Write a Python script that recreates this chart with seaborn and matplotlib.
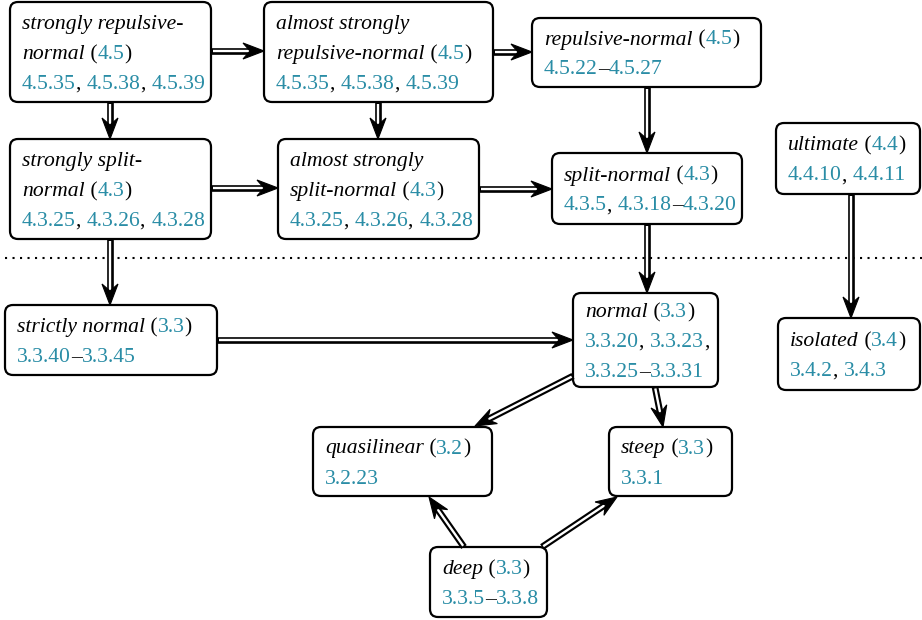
import re
import matplotlib
matplotlib.use("Agg")
import matplotlib.pyplot as plt
import seaborn as sns
from matplotlib.patches import FancyBboxPatch, Polygon

sns.set_theme(style="white")
plt.rcParams['font.family'] = ['Liberation Serif', 'DejaVu Serif']

# --- diagram content ---
nodes = ["srn", "asrn", "rn", "ssn", "assn", "sn", "ult",
         "stn", "nor", "iso", "ql", "stp", "deep"]
titles = [["strongly repulsive-", "normal"],
          ["almost strongly", "repulsive-normal"],
          ["repulsive-normal"],
          ["strongly split-", "normal"],
          ["almost strongly", "split-normal"],
          ["split-normal"],
          ["ultimate"],
          ["strictly normal"],
          ["normal"],
          ["isolated"],
          ["quasilinear"],
          ["steep"],
          ["deep"]]
sections = ["4.5", "4.5", "4.5", "4.3", "4.3", "4.3", "4.4",
            "3.3", "3.3", "3.4", "3.2", "3.3", "3.3"]
results = [["4.5.35, 4.5.38, 4.5.39"],
           ["4.5.35, 4.5.38, 4.5.39"],
           ["4.5.22\u20134.5.27"],
           ["4.3.25, 4.3.26, 4.3.28"],
           ["4.3.25, 4.3.26, 4.3.28"],
           ["4.3.5, 4.3.18\u20134.3.20"],
           ["4.4.10, 4.4.11"],
           ["3.3.40\u20133.3.45"],
           ["3.3.20, 3.3.23,", "3.3.25\u20133.3.31"],
           ["3.4.2, 3.4.3"],
           ["3.2.23"],
           ["3.3.1"],
           ["3.3.5\u20133.3.8"]]
edges = [("srn", "asrn"), ("asrn", "rn"), ("srn", "ssn"), ("asrn", "assn"),
         ("rn", "sn"), ("ssn", "assn"), ("assn", "sn"), ("ssn", "stn"),
         ("sn", "nor"), ("ult", "iso"), ("stn", "nor"), ("nor", "ql"),
         ("nor", "stp"), ("deep", "ql"), ("deep", "stp")]

# --- layout (pixels, y downwards) ---
boxes = {"srn": (10, 2, 211, 102), "asrn": (264, 2, 493, 102),
         "rn": (532, 18, 761, 87), "ssn": (10, 139, 211, 239),
         "assn": (278, 139, 479, 239), "sn": (552, 153, 742, 224),
         "ult": (776, 123, 920, 194), "stn": (5, 305, 217, 375),
         "nor": (573, 293, 718, 387), "iso": (778, 318, 920, 390),
         "ql": (313, 427, 492, 496), "stp": (609, 427, 732, 496),
         "deep": (430, 547, 547, 617)}
routes = {("srn", "asrn"): ("h", 51), ("asrn", "rn"): ("h", 52),
          ("srn", "ssn"): ("v", 110), ("asrn", "assn"): ("v", 378),
          ("rn", "sn"): ("v", 647), ("ssn", "assn"): ("h", 188),
          ("assn", "sn"): ("h", 189), ("ssn", "stn"): ("v", 110),
          ("sn", "nor"): ("v", 647), ("ult", "iso"): ("v", 851),
          ("stn", "nor"): ("h", 340),
          ("nor", "ql"): ("p", (573, 376), (475, 426)),
          ("nor", "stp"): ("p", (655, 387), (663, 427)),
          ("deep", "ql"): ("p", (464, 547), (429, 497)),
          ("deep", "stp"): ("p", (542, 547), (617, 497))}

TEAL = "#2a8da6"
FS = 15.6
SPACING = 30

fig = plt.figure(figsize=(9.22, 6.2), dpi=100)
ax = fig.add_axes([0, 0, 1, 1])
ax.set_xlim(0, 922)
ax.set_ylim(620, 0)
ax.axis("off")
renderer = fig.canvas.get_renderer()


def width_of(s, style):
    t = ax.text(0, 0, s, fontsize=FS, style=style)
    w = t.get_window_extent(renderer).width
    t.remove()
    return w


_ref = {st: width_of("||", st) for st in ("normal", "italic")}


def advance(s, style):
    # pen advance of s, measured between two bars so ink padding cancels
    return width_of("|" + s + "|", style) - _ref[style]


def draw_runs(x, y, runs):
    for text, color, style in runs:
        ax.text(x, y, text, fontsize=FS, style=style, color=color,
                va="baseline", ha="left", zorder=5)
        x += advance(text, style)


def result_runs(s):
    runs = []
    for part in re.split(r"(\d+(?:\.\d+)+)", s):
        if part:
            col = TEAL if re.fullmatch(r"\d+(?:\.\d+)+", part) else "black"
            runs.append((part, col, "normal"))
    return runs


for name, title, sec, res in zip(nodes, titles, sections, results):
    x0, y0, x1, y1 = boxes[name]
    ax.add_patch(FancyBboxPatch((x0, y0), x1 - x0, y1 - y0,
                                boxstyle="round,pad=0,rounding_size=8",
                                fc="white", ec="black", lw=1.6, zorder=2))
    lines = [[(t, "black", "italic")] for t in title[:-1]]
    lines.append([(title[-1], "black", "italic"), (" (", "black", "normal"),
                  (sec, TEAL, "normal"), (")", "black", "normal")])
    lines += [result_runs(r) for r in res]
    n = len(lines)
    base0 = (y0 + y1) / 2 + 7 - SPACING * (n - 1) / 2
    for i, runs in enumerate(lines):
        draw_runs(x0 + 12, base0 + i * SPACING, runs)


def double_arrow(p0, p1):
    (xa, ya), (xb, yb) = p0, p1
    L = ((xb - xa) ** 2 + (yb - ya) ** 2) ** 0.5
    dx, dy = (xb - xa) / L, (yb - ya) / L
    nx, ny = -dy, dx
    hl, hw, notch = 21, 8, 14
    sx, sy = xb - dx * notch, yb - dy * notch
    ax.plot([xa, sx], [ya, sy], color="black", lw=4.8, solid_capstyle="butt", zorder=3)
    ax.plot([xa + dx * 1.5, sx], [ya + dy * 1.5, sy], color="white", lw=1.7,
            solid_capstyle="butt", zorder=3.5)
    head = [(xb, yb),
            (xb - dx * hl + nx * hw, yb - dy * hl + ny * hw),
            (sx, sy),
            (xb - dx * hl - nx * hw, yb - dy * hl - ny * hw)]
    ax.add_patch(Polygon(head, closed=True, fc="black", ec="black", lw=0.8,
                         joinstyle="miter", zorder=4))


for src, dst in edges:
    r = routes[(src, dst)]
    if r[0] == "h":
        p0, p1 = (boxes[src][2], r[1]), (boxes[dst][0], r[1])
    elif r[0] == "v":
        p0, p1 = (r[1], boxes[src][3]), (r[1], boxes[dst][1])
    else:
        p0, p1 = r[1], r[2]
    double_arrow(p0, p1)

# separator between the two chapters
ax.plot([5, 922], [258, 258], color="black", lw=1.5, ls=(0, (1, 2.6)),
        dash_capstyle="butt", zorder=1)

fig.savefig("out.png", dpi=100)
